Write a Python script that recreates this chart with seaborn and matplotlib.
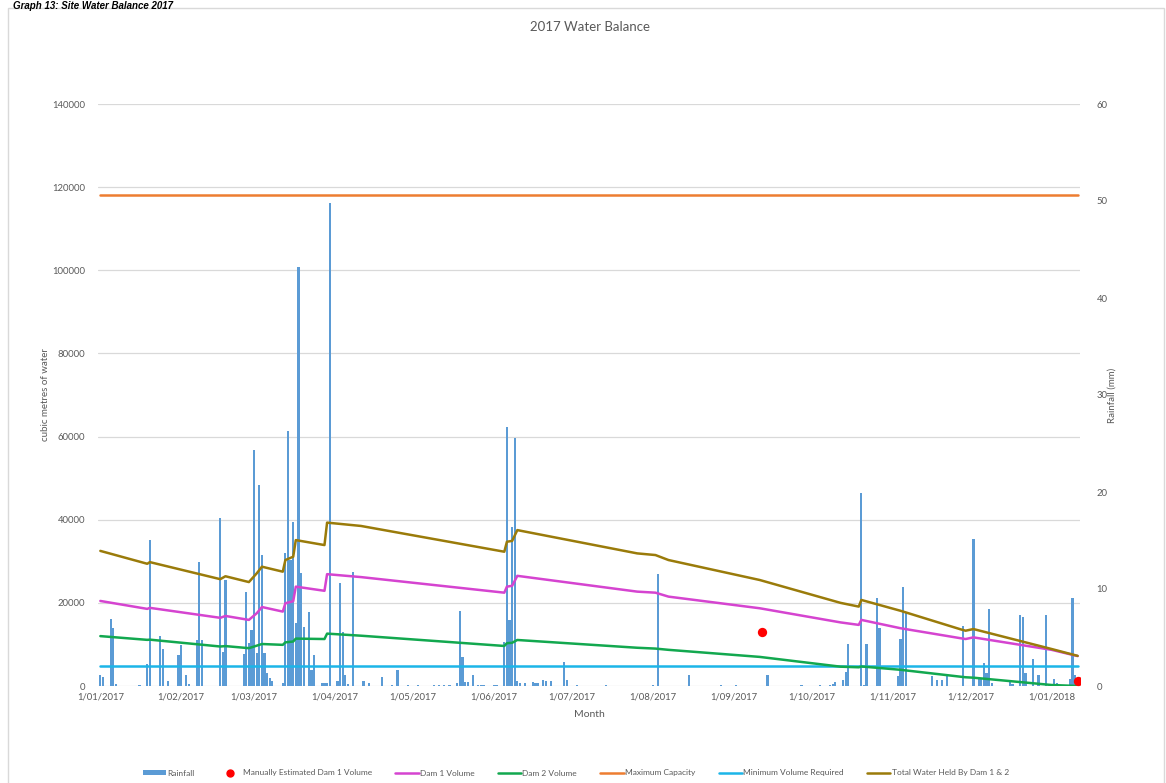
import numpy as np
import pandas as pd
import matplotlib
matplotlib.use("Agg")
import matplotlib.pyplot as plt
import matplotlib.dates as mdates
from matplotlib.ticker import FuncFormatter, FixedLocator
from matplotlib.patches import Rectangle, Patch
from matplotlib.lines import Line2D
import seaborn as sns

# ---------------- data ----------------
start_date = "2017-01-01"
n_days = 376  # 1 Jan 2017 .. 11 Jan 2018

# daily rainfall (mm); days not listed had no rain
rain_day = [0, 1, 4, 5, 6, 15, 18, 19, 23, 24, 26, 30, 31, 33, 34, 37, 38, 39,
            46, 47, 48, 55, 56, 57, 58, 59, 60, 61, 62, 63, 64, 65, 66, 70, 71,
            72, 73, 74, 75, 76, 77, 78, 80, 81, 82, 85, 86, 87, 88, 91, 92, 93,
            94, 95, 97, 101, 103, 108, 112, 114, 118, 122, 128, 130, 132, 134,
            137, 138, 139, 140, 141, 143, 145, 146, 147, 151, 152, 155, 156,
            157, 158, 159, 160, 161, 163, 166, 167, 168, 170, 171, 173, 178,
            179, 183, 194, 212, 214, 226, 238, 244, 256, 269, 276, 280, 281,
            282, 285, 286, 287, 292, 293, 294, 298, 299, 306, 307, 308, 309,
            319, 321, 323, 325, 331, 335, 337, 338, 339, 340, 341, 342, 349,
            350, 353, 354, 355, 358, 360, 363, 366, 367, 372, 373, 374]
rain_mm = [1.1, 0.9, 6.9, 6.0, 0.2, 0.1, 2.3, 15.1, 5.2, 3.8, 0.5, 3.2, 4.2, 1.1, 0.2, 4.7, 12.8, 4.7,
           17.3, 3.5, 10.9, 3.3, 9.7, 4.4, 5.8, 24.3, 3.4, 20.7, 13.5, 3.4, 1.3, 0.8, 0.5, 0.3, 13.7,
           26.3, 13.0, 16.9, 6.5, 43.2, 11.6, 6.1, 7.6, 1.6, 3.2, 0.3, 0.3, 0.3, 49.8, 0.5, 10.6, 5.6,
           1.1, 0.2, 11.8, 0.5, 0.3, 0.9, 0.1, 1.7, 0.1, 0.1, 0.1, 0.1, 0.1, 0.1,
           0.3, 7.7, 3.0, 0.4, 0.4, 1.1, 0.1, 0.1, 0.1, 0.1, 0.1, 4.5, 26.7,
           6.8, 16.4, 25.6, 0.5, 0.3, 0.3, 0.4, 0.3, 0.3, 0.6, 0.5, 0.5, 2.5,
           0.6, 0.1, 0.1, 0.1, 11.5, 1.1, 0.1, 0.1, 1.1, 0.1, 0.1, 0.1, 0.2,
           0.4, 0.6, 1.4, 4.3, 19.9, 0.1, 4.3, 9.1, 6.0, 1.0, 4.8, 10.2, 7.5,
           1.0, 0.6, 0.6, 1.0, 6.2, 15.2, 0.8, 0.8, 2.4, 1.3, 7.9, 0.3, 0.6,
           0.2, 7.3, 7.1, 1.3, 2.8, 1.1, 7.3, 0.7, 0.3, 0.7, 9.1, 1.1]

# dam volumes (cubic metres) at the days where the curves change direction
vol_day = [0, 18, 19, 46, 48, 57, 60, 62, 70, 71, 74, 75, 86, 87, 100, 155, 156,
           158, 160, 206, 213, 218, 253, 284, 291, 292, 307, 330, 332, 335, 365, 375]
dam1_volume = [20460, 18550, 18800, 16400, 16850, 15900, 17500, 19000, 17900, 19900,
               20400, 23900, 22900, 26900, 26200, 22450, 23900, 24100, 26500, 22700,
               22450, 21500, 18700, 15300, 14700, 15900, 13900, 11500, 11300, 11700,
               8700, 7200]
dam2_volume = [12000, 11100, 11150, 9500, 9600, 9100, 9700, 10100, 9900, 10500,
               10700, 11400, 11300, 12600, 12100, 9630, 10300, 10400, 11070, 9200,
               9000, 8700, 7000, 4650, 4500, 4700, 3900, 2240, 2100, 2000, 240, 0]
total_volume = [32500, 29400, 29800, 25700, 26400, 25000, 27100, 28700, 27500, 30300,
                31100, 35100, 33900, 39300, 38500, 32300, 34700, 34900, 37500, 31900,
                31500, 30300, 25500, 20000, 19100, 20700, 18100, 13650, 13300, 13700,
                8900, 7250]

manual_day = [254, 375]
manual_dam1 = [13070, 1200]

max_capacity = 118000
min_required = 4700

vol_ticks = [0, 20000, 40000, 60000, 80000, 100000, 120000, 140000]
rain_ticks = [0, 10, 20, 30, 40, 50, 60]
month_ticks = ["2017-01-01", "2017-02-01", "2017-03-01", "2017-04-01", "2017-05-01",
               "2017-06-01", "2017-07-01", "2017-08-01", "2017-09-01", "2017-10-01",
               "2017-11-01", "2017-12-01", "2018-01-01"]

# ---------------- styling ----------------
c_rain = "#5B9BD5"
c_manual = "#FF0000"
c_dam1 = "#D544D0"
c_dam2 = "#12A84F"
c_max = "#ED7D31"
c_min = "#1CB5E8"
c_total = "#9A7B0A"
c_text = "#595959"
c_grid = "#D9D9D9"

sns.set_theme(style="white")
plt.rcParams["font.family"] = ["Lato", "DejaVu Sans"]

t0 = pd.Timestamp(start_date)
def to_num(d):
    return mdates.date2num((t0 + pd.to_timedelta(np.asarray(d), unit="D")).to_pydatetime())

all_days = np.arange(n_days)
rain_daily = np.zeros(n_days)
rain_daily[rain_day] = rain_mm
rain_df = pd.DataFrame({"x": to_num(all_days), "mm": rain_daily})

vol_df = pd.DataFrame({"x": to_num(vol_day), "dam1": dam1_volume,
                       "dam2": dam2_volume, "total": total_volume})
span_x = to_num([0, n_days - 1])
man_df = pd.DataFrame({"x": to_num(manual_day), "v": manual_dam1})

W, H = 1166, 783
fig = plt.figure(figsize=(W / 100, H / 100), dpi=100)
L, R, B, T = 98 / W, 1080 / W, (H - 686) / H, (H - 104) / H
ax = fig.add_axes([L, B, R - L, T - B])
ax2 = ax.twinx()

# rainfall bars (secondary axis, drawn behind lines)
sns.barplot(data=rain_df, x="x", y="mm", native_scale=True, orient="x",
            color=c_rain, saturation=1, width=0.85, errorbar=None,
            linewidth=0, ax=ax)

# gridlines (aligned to the volume axis)
for v in vol_ticks:
    ax.axhline(v * 60 / 140000, color=c_grid, lw=0.9, zorder=0)

# volume lines
sns.lineplot(x=span_x, y=[min_required, min_required], color=c_min, lw=1.8, ax=ax2)
sns.lineplot(x=span_x, y=[max_capacity, max_capacity], color=c_max, lw=1.8, ax=ax2)
sns.lineplot(data=vol_df, x="x", y="dam2", color=c_dam2, lw=1.8, ax=ax2)
sns.lineplot(data=vol_df, x="x", y="dam1", color=c_dam1, lw=1.8, ax=ax2)
sns.lineplot(data=vol_df, x="x", y="total", color=c_total, lw=1.8, ax=ax2)
sns.scatterplot(data=man_df, x="x", y="v", color=c_manual, s=45, linewidth=0,
                ax=ax2, zorder=5)

# axes
ax.set_xlim(span_x[0] - 0.9, span_x[1] + 0.9)
ax.set_ylim(0, 60)
ax2.set_ylim(0, 140000)
for a in (ax, ax2):
    for s in a.spines.values():
        s.set_visible(False)
    a.grid(False)

ax.yaxis.tick_right()
ax.yaxis.set_label_position("right")
ax2.yaxis.tick_left()
ax2.yaxis.set_label_position("left")

ax.set_yticks(rain_ticks)
ax2.set_yticks(vol_ticks)
ax2.yaxis.set_major_formatter(FuncFormatter(lambda v, p: f"{int(v)}"))

mt = mdates.date2num(pd.to_datetime(month_ticks).to_pydatetime())
ax.xaxis.set_major_locator(FixedLocator(mt))
ax.xaxis.set_major_formatter(FuncFormatter(
    lambda v, p: (lambda d: f"{d.day}/{d.month:02d}/{d.year}")(mdates.num2date(v))))

ax.tick_params(axis="x", length=0, pad=5, labelsize=6.8, labelcolor=c_text)
ax.tick_params(axis="y", length=0, pad=12, labelsize=6.8, labelcolor=c_text)
ax2.tick_params(axis="y", length=0, pad=9, labelsize=6.8, labelcolor=c_text)

ax.set_xlabel("Month", fontsize=7.5, color=c_text, labelpad=6)
ax.set_ylabel("Rainfall (mm)", fontsize=7, color=c_text, labelpad=0)
ax2.set_ylabel("cubic metres of water", fontsize=7, color=c_text, labelpad=2)

fig.text(0.506, 1 - 27 / H, "2017 Water Balance", ha="center", va="center",
         fontsize=9.5, color=c_text)

# chart border and document heading
fig.patches.append(Rectangle((8 / W, -0.01), (1164 - 8) / W, 1.01 - 8 / H,
                             transform=fig.transFigure, fill=False,
                             edgecolor="#D9D9D9", lw=1))
fig.text(13 / W, 1 - 1 / H, "Graph 13: Site Water Balance 2017", ha="left",
         va="top", fontsize=7, fontweight="bold", fontstyle="italic",
         family=["Liberation Sans", "DejaVu Sans"], color="black")

# legend
handles = [
    Patch(facecolor=c_rain, edgecolor="none"),
    Line2D([], [], marker="o", ls="none", color=c_manual, markersize=5),
    Line2D([], [], color=c_dam1, lw=1.8),
    Line2D([], [], color=c_dam2, lw=1.8),
    Line2D([], [], color=c_max, lw=1.8),
    Line2D([], [], color=c_min, lw=1.8),
    Line2D([], [], color=c_total, lw=1.8),
]
labels = ["Rainfall", "Manually Estimated Dam 1 Volume", "Dam 1 Volume",
          "Dam 2 Volume", "Maximum Capacity", "Minimum Volume Required",
          "Total Water Held By Dam 1 & 2"]
leg = fig.legend(handles, labels, loc="center", bbox_to_anchor=(0.494, 10 / H),
                 ncol=7, frameon=False, fontsize=6, handlelength=2.8,
                 handleheight=0.45, handletextpad=0.15, columnspacing=2.8,
                 labelcolor=c_text)

fig.savefig("out.png", dpi=100)
